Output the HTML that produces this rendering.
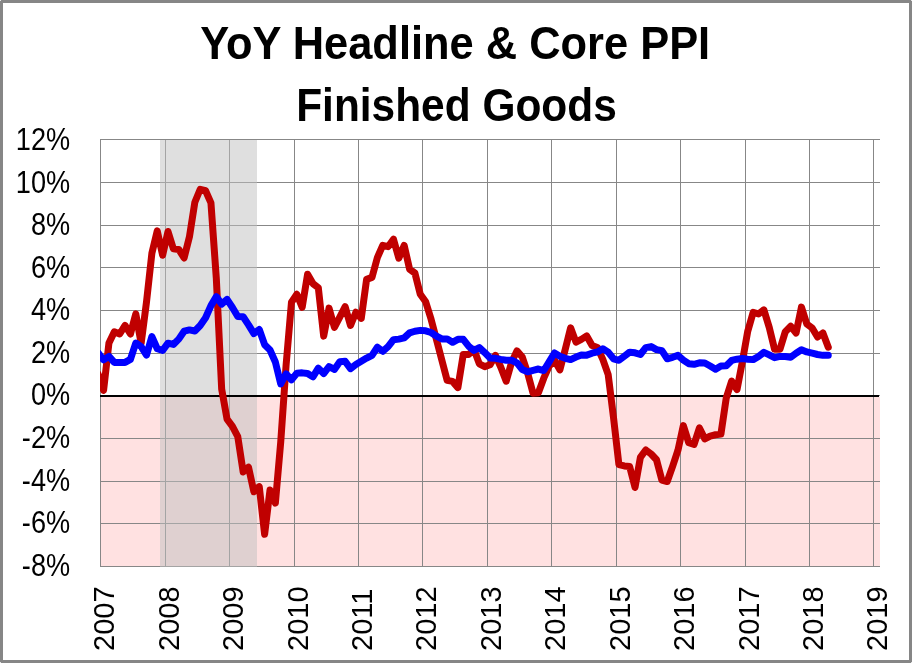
<!DOCTYPE html>
<html><head><meta charset="utf-8"><style>
html,body{margin:0;padding:0;background:#fff;overflow:hidden;width:912px;height:663px}
svg{display:block;will-change:transform}
text{font-family:"Liberation Sans",sans-serif}
</style></head><body>
<svg width="912" height="663" viewBox="0 0 912 663"><rect x="0" y="0" width="912" height="663" fill="#ffffff"/>
<rect x="100" y="397" width="780" height="169" fill="#ffe1e1"/>
<rect x="100" y="139" width="780" height="1" fill="#878787"/>
<rect x="100" y="182" width="780" height="1" fill="#878787"/>
<rect x="100" y="225" width="780" height="1" fill="#878787"/>
<rect x="100" y="267" width="780" height="1" fill="#878787"/>
<rect x="100" y="310" width="780" height="1" fill="#878787"/>
<rect x="100" y="353" width="780" height="1" fill="#878787"/>
<rect x="100" y="395" width="780" height="1" fill="#878787"/>
<rect x="100" y="438" width="780" height="1" fill="#878787"/>
<rect x="100" y="481" width="780" height="1" fill="#878787"/>
<rect x="100" y="523" width="780" height="1" fill="#878787"/>
<rect x="100" y="566" width="780" height="1" fill="#878787"/>
<rect x="100" y="139" width="1" height="428" fill="#878787"/>
<rect x="165" y="139" width="1" height="428" fill="#878787"/>
<rect x="229" y="139" width="1" height="428" fill="#878787"/>
<rect x="294" y="139" width="1" height="428" fill="#878787"/>
<rect x="358" y="139" width="1" height="428" fill="#878787"/>
<rect x="422" y="139" width="1" height="428" fill="#878787"/>
<rect x="487" y="139" width="1" height="428" fill="#878787"/>
<rect x="551" y="139" width="1" height="428" fill="#878787"/>
<rect x="616" y="139" width="1" height="428" fill="#878787"/>
<rect x="680" y="139" width="1" height="428" fill="#878787"/>
<rect x="745" y="139" width="1" height="428" fill="#878787"/>
<rect x="809" y="139" width="1" height="428" fill="#878787"/>
<rect x="873" y="139" width="1" height="428" fill="#878787"/>
<rect x="160" y="140" width="97" height="427" fill="rgb(193,193,193)" fill-opacity="0.51"/>
<rect x="100" y="395" width="779" height="2" fill="#000"/>
<clipPath id="pc"><rect x="100" y="100" width="780" height="500"/></clipPath>
<g clip-path="url(#pc)" fill="none" stroke-linejoin="round" stroke-linecap="round" stroke-width="7">
<polyline stroke="#c00000" points="98.22,374.35 103.58,390.36 108.95,342.97 114.32,331.86 119.69,334.00 125.06,325.46 130.42,334.00 135.79,313.93 141.16,343.39 146.53,301.76 151.90,253.08 157.26,230.88 162.63,255.22 168.00,231.52 173.37,248.81 178.74,249.45 184.11,257.99 189.47,236.64 194.84,202.27 200.21,189.25 205.58,190.74 210.95,202.91 216.31,278.27 221.68,389.08 227.05,419.19 232.42,426.44 237.79,436.69 243.15,471.92 248.52,467.22 253.89,491.77 259.26,486.65 264.63,534.26 269.99,490.07 275.36,503.09 280.73,442.03 286.10,364.96 291.47,302.19 296.84,294.29 302.20,307.31 307.57,274.22 312.94,283.61 318.31,287.67 323.68,336.13 329.04,308.16 334.41,327.38 339.78,317.13 345.15,306.67 350.52,325.46 355.88,312.22 361.25,318.41 366.62,279.34 371.99,277.42 377.36,257.57 382.72,245.40 388.09,246.68 393.46,239.20 398.83,258.21 404.20,245.40 409.56,269.09 414.93,273.15 420.30,294.29 425.67,301.76 431.04,319.05 436.41,339.34 441.77,359.83 447.14,380.33 452.51,381.40 457.88,387.59 463.25,354.49 468.61,354.49 473.98,349.58 479.35,363.89 484.72,366.66 490.09,364.74 495.45,355.35 500.82,367.30 506.19,381.18 511.56,362.39 516.93,350.87 522.29,357.06 527.66,373.07 533.03,393.14 538.40,392.71 543.77,378.19 549.13,366.02 554.50,360.26 559.87,369.87 565.24,349.37 570.61,327.81 575.98,342.11 581.34,339.34 586.71,335.92 592.08,345.53 597.45,347.45 602.82,359.40 608.18,374.56 613.55,417.90 618.92,464.66 624.29,465.94 629.66,466.58 635.02,487.50 640.39,457.40 645.76,449.93 651.13,453.99 656.50,459.75 661.86,480.03 667.23,481.53 672.60,466.37 677.97,450.14 683.34,425.59 688.71,442.67 694.07,444.38 699.44,427.94 704.81,438.83 710.18,436.05 715.55,434.77 720.91,434.13 726.28,397.83 731.65,381.18 737.02,389.51 742.39,361.54 747.75,331.22 753.12,312.44 758.49,313.93 763.86,309.87 769.23,327.38 774.59,349.37 779.96,349.16 785.33,331.65 790.70,326.31 796.07,332.93 801.43,307.10 806.80,323.96 812.17,328.02 817.54,336.99 822.91,332.93 828.28,347.24"/>
<polyline stroke="#0000ff" points="98.22,353.00 103.58,359.83 108.95,356.42 114.32,362.39 119.69,362.39 125.06,362.39 130.42,359.40 135.79,342.97 141.16,346.59 146.53,355.13 151.90,336.56 157.26,348.73 162.63,350.44 168.00,343.18 173.37,344.46 178.74,339.12 184.11,331.22 189.47,329.94 194.84,331.01 200.21,325.46 205.58,317.77 210.95,305.60 216.31,296.64 221.68,304.11 227.05,299.41 232.42,307.52 237.79,316.49 243.15,316.70 248.52,324.82 253.89,333.57 259.26,329.51 264.63,344.67 269.99,350.01 275.36,361.97 280.73,383.96 286.10,373.92 291.47,379.90 296.84,373.28 302.20,372.86 307.57,373.50 312.94,376.91 318.31,368.16 323.68,373.50 329.04,366.66 334.41,369.44 339.78,361.75 345.15,361.33 350.52,368.59 355.88,364.53 361.25,361.33 366.62,358.12 371.99,355.35 377.36,347.24 382.72,351.29 388.09,346.59 393.46,339.76 398.83,339.12 404.20,337.84 409.56,332.93 414.93,331.22 420.30,330.37 425.67,330.80 431.04,332.50 436.41,336.13 441.77,338.91 447.14,338.91 452.51,342.32 457.88,339.34 463.25,339.34 468.61,346.17 473.98,350.44 479.35,347.66 484.72,352.57 490.09,357.91 495.45,358.34 500.82,359.40 506.19,360.26 511.56,360.26 516.93,362.82 522.29,369.44 527.66,371.79 533.03,370.29 538.40,369.01 543.77,370.51 549.13,361.97 554.50,353.00 559.87,356.20 565.24,358.34 570.61,359.62 575.98,357.06 581.34,354.92 586.71,355.13 592.08,353.21 597.45,351.93 602.82,348.73 608.18,352.15 613.55,358.76 618.92,360.26 624.29,356.20 629.66,352.15 635.02,352.79 640.39,354.49 645.76,347.66 651.13,346.59 656.50,349.58 661.86,350.65 667.23,358.76 672.60,357.27 677.97,355.35 683.34,360.05 688.71,363.67 694.07,364.32 699.44,362.82 704.81,363.03 710.18,366.02 715.55,369.23 720.91,366.02 726.28,365.81 731.65,360.47 737.02,359.19 742.39,358.55 747.75,359.19 753.12,359.62 758.49,356.42 763.86,352.36 769.23,354.92 774.59,357.70 779.96,356.42 785.33,356.42 790.70,357.27 796.07,353.21 801.43,349.80 806.80,351.93 812.17,353.21 817.54,354.49 822.91,355.35 828.28,355.35"/>
</g>
<rect x="1.5" y="1.5" width="909" height="660" fill="none" stroke="#868686" stroke-width="3"/>
<rect x="0" y="0" width="1" height="1" fill="#e6e6e6"/>
<rect x="911" y="0" width="1" height="1" fill="#e6e6e6"/>
<rect x="0" y="662" width="1" height="1" fill="#e6e6e6"/>
<rect x="911" y="662" width="1" height="1" fill="#e6e6e6"/>
<text x="200.2" y="58.7" font-family="Liberation Sans" font-weight="bold" font-size="45.5" textLength="510" lengthAdjust="spacingAndGlyphs">YoY Headline &amp; Core PPI</text>
<text x="296.2" y="120.6" font-family="Liberation Sans" font-weight="bold" font-size="45.5" textLength="320.6" lengthAdjust="spacingAndGlyphs">Finished Goods</text>
<text transform="translate(70.1,150.1) scale(0.89,1)" text-anchor="end" font-family="Liberation Sans" font-size="30.5">12%</text>
<text transform="translate(70.1,192.6) scale(0.89,1)" text-anchor="end" font-family="Liberation Sans" font-size="30.5">10%</text>
<text transform="translate(70.1,235.2) scale(0.89,1)" text-anchor="end" font-family="Liberation Sans" font-size="30.5">8%</text>
<text transform="translate(70.1,277.8) scale(0.89,1)" text-anchor="end" font-family="Liberation Sans" font-size="30.5">6%</text>
<text transform="translate(70.1,320.3) scale(0.89,1)" text-anchor="end" font-family="Liberation Sans" font-size="30.5">4%</text>
<text transform="translate(70.1,362.9) scale(0.89,1)" text-anchor="end" font-family="Liberation Sans" font-size="30.5">2%</text>
<text transform="translate(70.1,405.4) scale(0.89,1)" text-anchor="end" font-family="Liberation Sans" font-size="30.5">0%</text>
<text transform="translate(70.1,447.9) scale(0.89,1)" text-anchor="end" font-family="Liberation Sans" font-size="30.5">-2%</text>
<text transform="translate(70.1,490.5) scale(0.89,1)" text-anchor="end" font-family="Liberation Sans" font-size="30.5">-4%</text>
<text transform="translate(70.1,533.0) scale(0.89,1)" text-anchor="end" font-family="Liberation Sans" font-size="30.5">-6%</text>
<text transform="translate(70.1,575.6) scale(0.89,1)" text-anchor="end" font-family="Liberation Sans" font-size="30.5">-8%</text>
<text transform="translate(114.4,651) rotate(-90)" font-family="Liberation Sans" font-size="29">2007</text>
<text transform="translate(179.4,651) rotate(-90)" font-family="Liberation Sans" font-size="29">2008</text>
<text transform="translate(243.4,651) rotate(-90)" font-family="Liberation Sans" font-size="29">2009</text>
<text transform="translate(308.4,651) rotate(-90)" font-family="Liberation Sans" font-size="29">2010</text>
<text transform="translate(372.4,651) rotate(-90)" font-family="Liberation Sans" font-size="29">2011</text>
<text transform="translate(436.4,651) rotate(-90)" font-family="Liberation Sans" font-size="29">2012</text>
<text transform="translate(501.4,651) rotate(-90)" font-family="Liberation Sans" font-size="29">2013</text>
<text transform="translate(565.4,651) rotate(-90)" font-family="Liberation Sans" font-size="29">2014</text>
<text transform="translate(630.4,651) rotate(-90)" font-family="Liberation Sans" font-size="29">2015</text>
<text transform="translate(694.4,651) rotate(-90)" font-family="Liberation Sans" font-size="29">2016</text>
<text transform="translate(759.4,651) rotate(-90)" font-family="Liberation Sans" font-size="29">2017</text>
<text transform="translate(823.4,651) rotate(-90)" font-family="Liberation Sans" font-size="29">2018</text>
<text transform="translate(887.4,651) rotate(-90)" font-family="Liberation Sans" font-size="29">2019</text></svg>
</body></html>
